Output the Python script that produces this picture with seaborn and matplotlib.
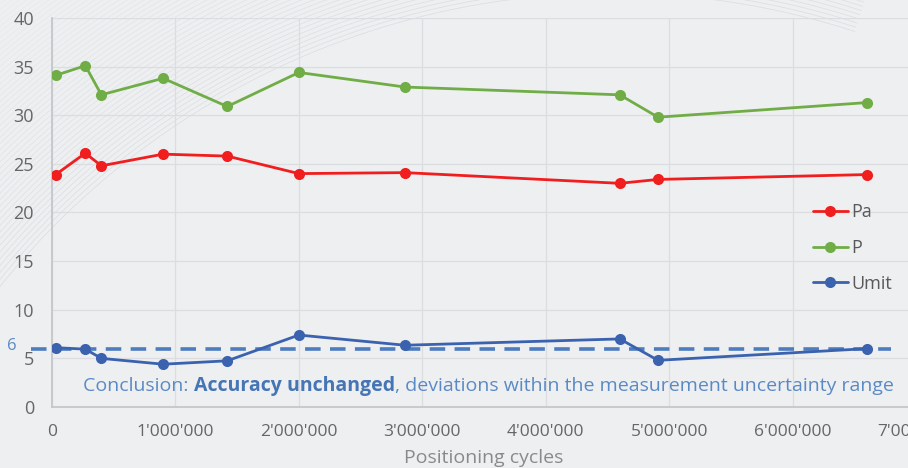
import numpy as np
import pandas as pd
import matplotlib
matplotlib.use("Agg")
import matplotlib.pyplot as plt
import seaborn as sns
from matplotlib.ticker import FuncFormatter, MultipleLocator
from matplotlib.offsetbox import TextArea, HPacker, AnnotationBbox

# positioning cycles at each measurement
cycles = [30000, 270000, 400000, 900000, 1420000, 2000000, 2860000, 4600000, 4910000, 6600000]
pa = [23.9, 26.1, 24.8, 26.0, 25.8, 24.0, 24.1, 23.0, 23.4, 23.9]
p = [34.1, 35.1, 32.1, 33.8, 30.9, 34.4, 32.9, 32.1, 29.8, 31.3]
umit = [6.1, 5.95, 5.0, 4.4, 4.75, 7.4, 6.35, 7.0, 4.8, 6.0]
series_names = ["Pa", "P", "Umit"]
series_colors = ["#F01E1E", "#70AD47", "#3A62AE"]
limit = 6
limit_span = (-170000, 6800000)
conclusion = ["Conclusion: ", "Accuracy unchanged", ", deviations within the measurement uncertainty range"]

df = pd.DataFrame({"cycles": cycles, "Pa": pa, "P": p, "Umit": umit})
df = df.melt("cycles", var_name="series", value_name="value")

sns.set_theme(style="white")
plt.rcParams["font.family"] = ["Open Sans", "DejaVu Sans"]

W, H = 908, 468
fig = plt.figure(figsize=(W / 100, H / 100), dpi=100, facecolor="#EEEFF1")

# faint decorative swoosh in the upper-left background
bg = fig.add_axes([0, 0, 1, 1], zorder=-1)
bg.set_xlim(0, W)
bg.set_ylim(H, 0)
bg.axis("off")
t = np.linspace(np.pi * 0.95, np.pi * 1.6, 300)
for i, r in enumerate(np.linspace(785, 1000, 50)):
    bg.plot(612 + r * np.cos(t), 778 + r * np.sin(t), color="#D2D4D8", lw=0.5,
            alpha=0.7 * (1 - i / 60))

ax = fig.add_axes([52 / W, (H - 407) / H, (916 - 52) / W, (407 - 18) / H])
ax.set_facecolor("none")

sns.lineplot(data=df, x="cycles", y="value", hue="series", hue_order=series_names,
             palette=series_colors, marker="o", markersize=8, markeredgewidth=0,
             linewidth=2, ax=ax, zorder=4)

ax.hlines(limit, *limit_span, colors="#4D7CBF", linestyles=(0, (4.3, 2.6)), lw=2.6,
          clip_on=False, zorder=3)
ax.annotate("6", xy=(0, limit), xycoords=ax.get_yaxis_transform(), xytext=(-40, 3),
            textcoords="offset pixels", color="#5A8AC6", fontsize=12, ha="center", va="center")

ax.set_xlim(0, 7000000)
ax.set_ylim(0, 40)
ax.xaxis.set_major_locator(MultipleLocator(1000000))
ax.xaxis.set_minor_locator(MultipleLocator(200000))
ax.yaxis.set_major_locator(MultipleLocator(5))
ax.xaxis.set_major_formatter(FuncFormatter(lambda v, _: f"{int(v):,}".replace(",", "'")))

ax.grid(True, which="major", color="#DCDDE0", lw=0.9)
for s in ["top", "right"]:
    ax.spines[s].set_visible(False)
for s in ["left", "bottom"]:
    ax.spines[s].set_color("#C4C5C8")
ax.tick_params(axis="x", which="both", direction="inout", length=6, color="#C4C5C8",
               labelsize=12.5, labelcolor="#666666", pad=9)
ax.tick_params(axis="y", length=0, labelsize=13, labelcolor="#666666", pad=13)

ax.set_xlabel("Positioning cycles", fontsize=14, color="#8A8A8A", labelpad=7)
ax.set_ylabel("")

leg = ax.legend(loc="upper left", bbox_to_anchor=(797 / W, 1 - 187 / H),
                bbox_transform=fig.transFigure, frameon=False, labelspacing=0.98,
                handlelength=1.9, handletextpad=0.2, fontsize=13)
for txt in leg.get_texts():
    txt.set_color("#595959")

parts = [TextArea(s, textprops=dict(color=c, fontsize=14, fontweight=w))
         for s, c, w in zip(conclusion, ["#5A8AC6", "#4675B5", "#5A8AC6"],
                            ["normal", "bold", "normal"])]
box = HPacker(children=parts, align="baseline", pad=0, sep=0)
ab = AnnotationBbox(box, (83 / W, 1 - 386 / H), xycoords="figure fraction",
                    box_alignment=(0, 0.5), frameon=False, pad=0)
fig.add_artist(ab)

fig.savefig("out.png", dpi=100, facecolor=fig.get_facecolor())
